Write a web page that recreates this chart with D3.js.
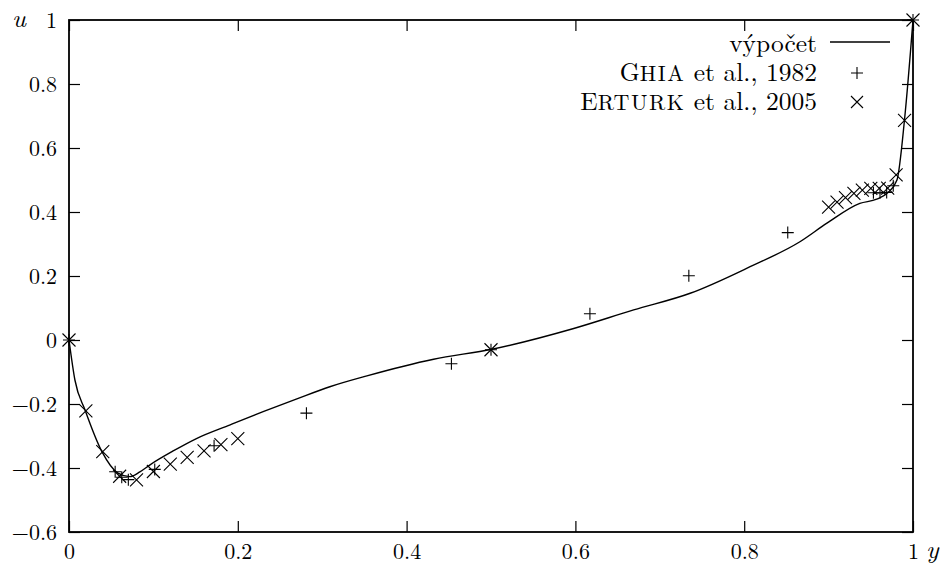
<!DOCTYPE html>
<html>
<head>
<meta charset="utf-8">
<script src="https://cdn.jsdelivr.net/npm/d3@7"></script>
<style>
  body { margin: 0; background: #fff; }
</style>
</head>
<body>
<script>
// computed profile u(y)
var calcY = [0, 0.007, 0.019, 0.039, 0.058, 0.072, 0.084, 0.096, 0.124, 0.151, 0.191, 0.230, 0.270, 0.309, 0.353, 0.432, 0.501, 0.598, 0.669, 0.736, 0.807, 0.866, 0.898, 0.937, 0.957, 0.970, 0.981, 0.990, 1]
var calcU = [0, -0.125, -0.219, -0.349, -0.416, -0.427, -0.412, -0.390, -0.346, -0.308, -0.265, -0.224, -0.184, -0.146, -0.112, -0.060, -0.029, 0.036, 0.094, 0.146, 0.229, 0.307, 0.365, 0.427, 0.440, 0.460, 0.500, 0.690, 1]

// Ghia et al., 1982 (Re = 5000)
var ghiaY = [1.0000, 0.9766, 0.9688, 0.9609, 0.9531, 0.8516, 0.7344, 0.6172, 0.5000, 0.4531, 0.2813, 0.1719, 0.1016, 0.0703, 0.0625, 0.0547, 0.0000]
var ghiaU = [1.0, 0.48223, 0.46120, 0.45992, 0.46036, 0.33556, 0.20087, 0.08183, -0.03039, -0.07404, -0.22855, -0.33050, -0.40435, -0.43643, -0.42901, -0.41165, 0.0]

// Erturk et al., 2005 (Re = 5000)
var erturkY = [1.00, 0.99, 0.98, 0.97, 0.96, 0.95, 0.94, 0.93, 0.92, 0.91, 0.90, 0.50, 0.20, 0.18, 0.16, 0.14, 0.12, 0.10, 0.08, 0.06, 0.04, 0.02, 0.00]
var erturkU = [1.0, 0.6866, 0.5159, 0.4749, 0.4739, 0.4738, 0.4683, 0.4582, 0.4452, 0.4307, 0.4155, -0.0305, -0.3079, -0.3273, -0.3468, -0.3668, -0.3876, -0.4109, -0.4371, -0.4258, -0.3486, -0.2217, 0.0]

var legendLabels = ["výpočet", "Ghia", "Erturk"]
var legendYears = [" et al., 1982", " et al., 2005"]

var serif = '"Latin Modern Roman", "Liberation Serif", serif'
var width = 949, height = 571
var plotLeft = 69, plotRight = 913, plotTop = 20, plotBottom = 532

var svg = d3.select('body').append('svg')
    .attr('width', width).attr('height', height)

var x = d3.scaleLinear().domain([0, 1]).range([plotLeft, plotRight])
var y = d3.scaleLinear().domain([-0.6, 1]).range([plotBottom, plotTop])
var fmt = d3.format("~g")

function styleAxis(g) {
  g.select('.domain').remove()
  g.selectAll('.tick line').attr('stroke', '#000').attr('stroke-width', 1.2)
  g.selectAll('.tick text').attr('fill', '#000')
      .style('font-family', serif).style('font-size', '22px')
}

svg.append('g').attr('transform', 'translate(' + plotLeft + ',0)')
    .call(d3.axisLeft(y).ticks(8).tickSize(-11).tickPadding(12).tickFormat(fmt))
    .call(styleAxis)
svg.append('g').attr('transform', 'translate(' + plotRight + ',0)')
    .call(d3.axisRight(y).ticks(8).tickSize(-11).tickFormat(''))
    .call(styleAxis)
svg.append('g').attr('transform', 'translate(0,' + plotBottom + ')')
    .call(d3.axisBottom(x).ticks(5).tickSize(-11).tickPadding(11).tickFormat(fmt))
    .call(styleAxis)
svg.append('g').attr('transform', 'translate(0,' + plotTop + ')')
    .call(d3.axisTop(x).ticks(5).tickSize(-11).tickFormat(''))
    .call(styleAxis)

// frame
svg.append('rect')
    .attr('x', plotLeft).attr('y', plotTop)
    .attr('width', plotRight - plotLeft).attr('height', plotBottom - plotTop)
    .attr('fill', 'none').attr('stroke', '#000').attr('stroke-width', 1.8)

// axis names
svg.append('text').attr('x', 12).attr('y', 27)
    .style('font-family', serif).style('font-size', '26px').style('font-style', 'italic').text('u')
svg.append('text').attr('x', 926).attr('y', 558)
    .style('font-family', serif).style('font-size', '26px').style('font-style', 'italic').text('y')

// computed curve
var calc = calcY.map(function(d, i) { return [d, calcU[i]] })
var line = d3.line()
    .x(function(d) { return x(d[0]) })
    .y(function(d) { return y(d[1]) })
    .curve(d3.curveMonotoneX)

svg.append('path').datum(calc)
    .attr('d', line)
    .attr('fill', 'none').attr('stroke', '#000').attr('stroke-width', 1.4)

function plusPath(cx, cy, s) {
  return 'M' + (cx - s) + ',' + cy + 'H' + (cx + s) + 'M' + cx + ',' + (cy - s) + 'V' + (cy + s)
}
function crossPath(cx, cy, s) {
  return 'M' + (cx - s) + ',' + (cy - s) + 'L' + (cx + s) + ',' + (cy + s) +
         'M' + (cx - s) + ',' + (cy + s) + 'L' + (cx + s) + ',' + (cy - s)
}

var ghia = ghiaY.map(function(d, i) { return [d, ghiaU[i]] })
var erturk = erturkY.map(function(d, i) { return [d, erturkU[i]] })

svg.append('g').selectAll('path').data(ghia).enter().append('path')
    .attr('d', function(d) { return plusPath(x(d[0]), y(d[1]), 6) })
    .attr('stroke', '#000').attr('stroke-width', 1.1).attr('fill', 'none')

svg.append('g').selectAll('path').data(erturk).enter().append('path')
    .attr('d', function(d) { return crossPath(x(d[0]), y(d[1]), 6.5) })
    .attr('stroke', '#000').attr('stroke-width', 1.1).attr('fill', 'none')

// legend
var lg = svg.append('g')
var rowY = [44, 73, 102]
var textX = 817, symX = 857

function legendText(row) {
  return lg.append('text').attr('x', textX).attr('y', rowY[row] + 8)
      .attr('text-anchor', 'end')
      .style('font-family', serif).style('font-size', '25.5px')
}
// small caps like \textsc: first letter full size, the rest smaller capitals
function smallCaps(t, word) {
  t.append('tspan').text(word.charAt(0))
  t.append('tspan').style('font-size', '22px').style('letter-spacing', '1.5px')
      .text(word.slice(1).toUpperCase())
}

legendText(0).text(legendLabels[0])
lg.append('line').attr('x1', 830).attr('x2', 890).attr('y1', rowY[0] - 2).attr('y2', rowY[0] - 2)
    .attr('stroke', '#000').attr('stroke-width', 1.4)

var t1 = legendText(1)
smallCaps(t1, legendLabels[1])
t1.append('tspan').text(legendYears[0])
lg.append('path').attr('d', plusPath(symX, rowY[1], 6))
    .attr('stroke', '#000').attr('stroke-width', 1.1)

var t2 = legendText(2)
smallCaps(t2, legendLabels[2])
t2.append('tspan').text(legendYears[1])
lg.append('path').attr('d', crossPath(symX, rowY[2], 6))
    .attr('stroke', '#000').attr('stroke-width', 1.1)
</script>
</body>
</html>
